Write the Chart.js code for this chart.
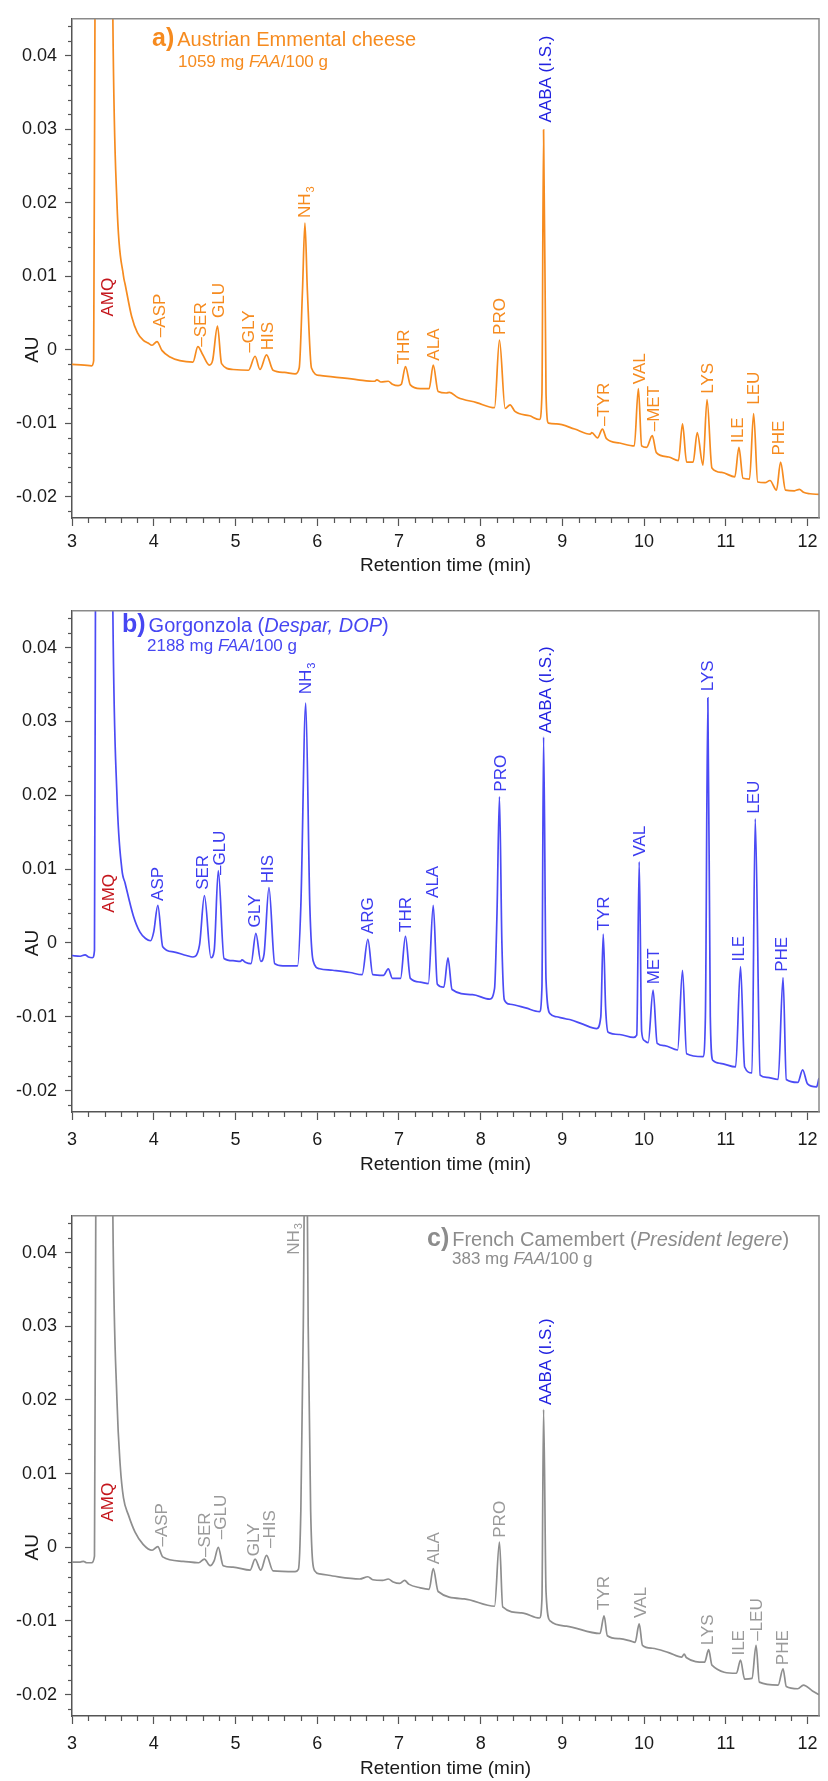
<!DOCTYPE html>
<html>
<head>
<meta charset="utf-8">
<script src="https://cdn.jsdelivr.net/npm/chart.js@4.4.1/dist/chart.umd.min.js"></script>
<style>
  body { margin:0; width:828px; height:1781px; overflow:hidden; background:#fff; position:relative;
         font-family:"Liberation Sans", Arial, sans-serif; }
  canvas { position:absolute; left:0; }
  .ttl { position:absolute; white-space:nowrap; font-size:20px; line-height:24px; }
  .ttl b { font-size:25px; margin-right:3px; }
  .sub { position:absolute; white-space:nowrap; font-size:17px; line-height:20px; }
</style>
</head>
<body>
<canvas id="panelA" width="828" height="580" style="top:0px"></canvas>
<canvas id="panelB" width="828" height="586" style="top:592px"></canvas>
<canvas id="panelC" width="828" height="584" style="top:1197px"></canvas>

<div class="ttl" style="left:152px;top:25px;color:#F68B1F"><b>a)</b>Austrian Emmental cheese</div>
<div class="sub" style="left:178px;top:52px;color:#F68B1F">1059 mg <i>FAA</i>/100 g</div>
<div class="ttl" style="left:122px;top:611px;color:#4646F2"><b>b)</b>Gorgonzola (<i>Despar, DOP</i>)</div>
<div class="sub" style="left:147px;top:636px;color:#4646F2">2188 mg <i>FAA</i>/100 g</div>
<div class="ttl" style="left:427px;top:1225px;color:#8c8c8c"><b>c)</b>French Camembert (<i>President legere</i>)</div>
<div class="sub" style="left:452px;top:1249px;color:#8c8c8c">383 mg <i>FAA</i>/100 g</div>

<script>
// retention time (min) and absorbance (AU)
var timeA = [3.00,3.15,3.24,3.265,3.285,3.32,3.42,3.48,3.50,3.55,3.63,3.65,3.73,3.80,3.87,3.93,3.98,4.04,4.10,4.20,4.32,4.48,4.54,4.60,4.68,4.72,4.78,4.83,4.97,5.16,5.24,5.30,5.38,5.46,5.60,5.73,5.78,5.82,5.85,5.88,5.93,6.03,6.19,6.50,6.70,6.73,6.78,6.87,6.92,6.99,7.03,7.08,7.14,7.26,7.37,7.42,7.48,7.58,7.62,7.72,7.95,8.17,8.23,8.30,8.36,8.42,8.60,8.72,8.75,8.77,8.80,8.83,8.93,9.15,9.34,9.36,9.43,9.49,9.54,9.70,9.88,9.93,9.97,10.03,10.10,10.15,10.30,10.42,10.47,10.52,10.60,10.65,10.72,10.77,10.83,10.95,11.11,11.16,11.21,11.29,11.34,11.39,11.48,11.54,11.62,11.67,11.73,11.84,11.90,11.95,12.03,12.14];
var auA   = [-0.0020,-0.0021,-0.0022,-0.0015,0.06,0.14,0.15,0.08,0.045,0.020,0.0100,0.0089,0.0045,0.0023,0.0013,0.0009,0.0006,0.0011,-0.0001,-0.0010,-0.0015,-0.0017,0.0004,-0.0007,-0.0021,-0.0015,0.0032,-0.0019,-0.0027,-0.0028,-0.0009,-0.0027,-0.0007,-0.0028,-0.0031,-0.0033,-0.0025,0.0080,0.0172,0.0080,-0.0025,-0.0035,-0.0037,-0.0041,-0.0043,-0.0041,-0.0044,-0.0043,-0.0047,-0.0049,-0.0047,-0.0023,-0.0048,-0.0053,-0.0053,-0.0021,-0.0057,-0.0059,-0.0058,-0.0065,-0.0072,-0.0079,0.0013,-0.0080,-0.0075,-0.0084,-0.0090,-0.0095,-0.0060,0.0299,-0.0060,-0.0100,-0.0101,-0.0108,-0.0115,-0.0113,-0.0120,-0.0108,-0.0121,-0.0127,-0.0131,-0.0053,-0.0131,-0.0133,-0.0117,-0.0140,-0.0146,-0.0151,-0.0101,-0.0153,-0.0153,-0.0113,-0.0157,-0.0068,-0.0161,-0.0167,-0.0173,-0.0133,-0.0175,-0.0176,-0.0087,-0.0180,-0.0181,-0.0178,-0.0191,-0.0153,-0.0191,-0.0192,-0.0190,-0.0194,-0.0196,-0.0197];

var timeB = [3.00,3.10,3.16,3.20,3.25,3.275,3.29,3.33,3.42,3.48,3.50,3.55,3.61,3.65,3.75,3.83,3.90,3.96,4.00,4.05,4.11,4.24,4.40,4.48,4.56,4.62,4.70,4.74,4.79,4.86,4.97,5.06,5.08,5.12,5.19,5.25,5.31,5.35,5.41,5.48,5.58,5.76,5.80,5.86,5.91,5.95,6.03,6.19,6.40,6.55,6.62,6.68,6.81,6.87,6.92,7.02,7.08,7.14,7.26,7.36,7.42,7.47,7.55,7.60,7.65,7.90,8.11,8.17,8.20,8.23,8.26,8.29,8.36,8.55,8.72,8.75,8.77,8.80,8.85,8.93,9.05,9.10,9.25,9.42,9.47,9.50,9.53,9.56,9.70,9.87,9.91,9.94,9.97,10.00,10.05,10.11,10.16,10.25,10.41,10.47,10.52,10.72,10.75,10.78,10.81,10.84,10.93,11.12,11.18,11.23,11.32,11.36,11.42,11.50,11.64,11.70,11.74,11.88,11.94,12.00,12.11,12.14];
var auB   = [-0.0017,-0.0018,-0.0016,-0.0019,-0.0020,-0.0010,0.06,0.14,0.15,0.08,0.045,0.020,0.0100,0.0081,0.0037,0.0015,0.0006,0.0003,0.0015,0.0051,-0.0005,-0.0012,-0.0017,-0.0019,-0.0003,0.0064,-0.0020,-0.0010,0.0098,-0.0021,-0.0024,-0.0025,-0.0023,-0.0026,-0.0028,0.0013,-0.0025,-0.0015,0.0075,-0.0028,-0.0031,-0.0031,0.0050,0.0325,0.0050,-0.0024,-0.0035,-0.0037,-0.0040,-0.0043,0.0005,-0.0043,-0.0044,-0.0035,-0.0048,-0.0048,0.0009,-0.0048,-0.0053,-0.0055,0.0051,-0.0056,-0.0060,-0.0020,-0.0063,-0.0070,-0.0076,-0.0062,0.0040,0.0198,0.0000,-0.0077,-0.0083,-0.0088,-0.0093,-0.0060,0.0279,-0.0050,-0.0096,-0.0100,-0.0103,-0.0104,-0.0110,-0.0116,-0.0100,0.0012,-0.0090,-0.0121,-0.0124,-0.0128,-0.0125,0.0110,-0.0120,-0.0132,-0.0135,-0.0064,-0.0136,-0.0139,-0.0145,-0.0037,-0.0150,-0.0154,-0.0100,0.0332,-0.0100,-0.0159,-0.0163,-0.0168,-0.0032,-0.0168,-0.0176,0.0168,-0.0179,-0.0182,-0.0185,-0.0047,-0.0185,-0.0189,-0.0172,-0.0191,-0.0195,-0.0183];

var timeC = [3.00,3.10,3.14,3.18,3.24,3.275,3.295,3.33,3.42,3.48,3.50,3.55,3.59,3.63,3.69,3.77,3.87,3.98,4.05,4.11,4.36,4.55,4.62,4.69,4.74,4.79,4.85,4.97,5.18,5.24,5.31,5.38,5.46,5.73,5.77,5.80,5.83,5.86,5.89,5.92,5.97,6.03,6.19,6.52,6.62,6.68,6.80,6.87,6.93,7.01,7.07,7.12,7.26,7.37,7.42,7.48,7.80,8.17,8.23,8.27,8.50,8.72,8.75,8.77,8.80,8.85,9.05,9.46,9.51,9.55,9.70,9.83,9.89,9.94,9.98,10.10,10.30,10.46,10.49,10.52,10.74,10.79,10.83,11.13,11.18,11.23,11.32,11.37,11.41,11.64,11.70,11.74,11.88,11.95,12.06,12.14];
var auC   = [-0.0020,-0.0020,-0.0019,-0.0021,-0.0021,-0.0012,0.06,0.14,0.15,0.08,0.045,0.020,0.0111,0.0067,0.0044,0.0021,0.0004,-0.0004,0.0001,-0.0013,-0.0019,-0.0021,-0.0016,-0.0025,-0.0018,0.0000,-0.0025,-0.0027,-0.0031,-0.0016,-0.0031,-0.0011,-0.0032,-0.0033,-0.0030,0.0050,0.0300,0.0700,0.0300,0.0050,-0.0032,-0.0036,-0.0039,-0.0043,-0.0040,-0.0044,-0.0045,-0.0043,-0.0047,-0.0049,-0.0045,-0.0050,-0.0055,-0.0057,-0.0029,-0.0060,-0.0070,-0.0080,0.0007,-0.0081,-0.0089,-0.0096,-0.0070,0.0187,-0.0060,-0.0100,-0.0107,-0.0117,-0.0093,-0.0120,-0.0124,-0.0127,-0.0129,-0.0104,-0.0133,-0.0137,-0.0143,-0.0149,-0.0145,-0.0150,-0.0156,-0.0139,-0.0160,-0.0171,-0.0153,-0.0179,-0.0178,-0.0133,-0.0183,-0.0187,-0.0165,-0.0189,-0.0192,-0.0187,-0.0195,-0.0200];

// peak annotations: name, retention time, AU where the rotated label starts
var peakNamesA = ['AMQ','–ASP','–SER','GLU','–GLY','HIS','NH3','THR','ALA','PRO','AABA (I.S.)','–TYR','VAL','–MET','LYS','ILE','LEU','PHE'];
var peakTimeA  = [3.44,4.08,4.58,4.80,5.17,5.40,5.86,7.07,7.43,8.24,8.80,9.51,9.95,10.13,10.79,11.15,11.35,11.66];
var peakLabA   = [0.0045,0.0017,0.0004,0.0043,-0.0004,-0.0001,0.0179,-0.0020,-0.0015,0.0020,0.0309,-0.0104,-0.0047,-0.0111,-0.0060,-0.0127,-0.0075,-0.0144];

var peakNamesB = ['AMQ','ASP','SER','–GLU','GLY','HIS','NH3','ARG','THR','ALA','PRO','AABA (I.S.)','TYR','VAL','MET','LYS','ILE','LEU','PHE'];
var peakTimeB  = [3.46,4.05,4.61,4.81,5.24,5.40,5.87,6.63,7.09,7.42,8.25,8.80,9.51,9.95,10.13,10.78,11.17,11.35,11.69];
var peakLabB   = [0.0041,0.0057,0.0072,0.0092,0.0021,0.0081,0.0337,0.0012,0.0015,0.0061,0.0205,0.0284,0.0017,0.0117,-0.0056,0.0341,-0.0025,0.0175,-0.0039];

var peakNamesC = ['AMQ','–ASP','–SER','–GLU','GLY','–HIS','NH3','ALA','PRO','AABA (I.S.)','TYR','VAL','LYS','ILE','–LEU','PHE'];
var peakTimeC  = [3.44,4.11,4.63,4.83,5.23,5.43,5.72,7.43,8.24,8.80,9.51,9.96,10.79,11.17,11.38,11.70];
var peakLabC   = [0.0035,0.0001,-0.0013,0.0011,-0.0012,-0.0001,0.0397,-0.0023,0.0013,0.0193,-0.0085,-0.0096,-0.0133,-0.0147,-0.0127,-0.0160];

var xMin = 3, xMax = 12.14;
var yMin = -0.0229, yMax = 0.045;

Chart.defaults.font.family = '"Liberation Sans", Arial, sans-serif';
Chart.defaults.color = '#1a1a1a';

function line(ctx, x1, y1, x2, y2) {
  ctx.beginPath(); ctx.moveTo(x1, y1); ctx.lineTo(x2, y2); ctx.stroke();
}

// frame, minor ticks, AU label and peak names
var decor = {
  id: 'decor',
  afterDraw: function(chart, args, opts) {
    var ctx = chart.ctx, a = chart.chartArea, x = chart.scales.x, y = chart.scales.y;
    ctx.save();
    ctx.strokeStyle = '#8a8a8a'; ctx.lineWidth = 1.5;
    ctx.beginPath(); ctx.moveTo(a.left, a.top); ctx.lineTo(a.right, a.top); ctx.lineTo(a.right, a.bottom); ctx.stroke();

    ctx.strokeStyle = '#555'; ctx.lineWidth = 1.2;
    for (var k = -11; k <= 22; k++) {
      if (k % 5 === 0) continue;
      var py = Math.round(y.getPixelForValue(k * 0.002)) + 0.5;
      line(ctx, a.left - 4, py, a.left, py);
    }
    for (var j = 16; j <= 60; j++) {
      if (j % 5 === 0) continue;
      var px = Math.round(x.getPixelForValue(j * 0.2)) + 0.5;
      line(ctx, px, a.bottom, px, a.bottom + 5);
    }

    ctx.fillStyle = '#1a1a1a';
    ctx.font = '19px "Liberation Sans", Arial, sans-serif';
    ctx.translate(33, y.getPixelForValue(0));
    ctx.rotate(-Math.PI / 2);
    ctx.textAlign = 'center'; ctx.textBaseline = 'middle';
    ctx.fillText('AU', 0, 0);
    ctx.restore();

    opts.names.forEach(function(name, i) {
      var col = opts.color;
      if (name === 'AMQ') col = '#C4161C';
      if (name.indexOf('AABA') >= 0) col = '#2222E0';
      ctx.save();
      ctx.fillStyle = col;
      ctx.font = '17px "Liberation Sans", Arial, sans-serif';
      ctx.translate(x.getPixelForValue(opts.times[i]), y.getPixelForValue(opts.au[i]));
      ctx.rotate(-Math.PI / 2);
      ctx.textAlign = 'left'; ctx.textBaseline = 'middle';
      if (name === 'NH3') {
        ctx.fillText('NH', 0, 0);
        var w = ctx.measureText('NH').width;
        ctx.font = '11px "Liberation Sans", Arial, sans-serif';
        ctx.fillText('3', w + 1, 5);
      } else {
        ctx.fillText(name, 0, 0);
      }
      ctx.restore();
    });
  }
};

function buildPanel(id, times, au, lineColor, labelColor, names, ptimes, plab, axisH, titlePad, tickPad) {
  var pts = times.map(function(t, i) { return {x: t, y: au[i]}; });
  return new Chart(document.getElementById(id), {
    type: 'line',
    data: { datasets: [{ data: pts, borderColor: lineColor, borderWidth: 1.7, pointRadius: 0,
                         fill: false, cubicInterpolationMode: 'monotone' }] },
    options: {
      responsive: false, animation: false, devicePixelRatio: 1,
      layout: { padding: { top: 11, right: 9, left: 0, bottom: 0 } },
      plugins: {
        legend: { display: false }, tooltip: { enabled: false },
        decor: { names: names, times: ptimes, au: plab, color: labelColor }
      },
      scales: {
        x: {
          type: 'linear', min: xMin, max: xMax,
          ticks: { stepSize: 1, includeBounds: false, autoSkip: false, maxRotation: 0, padding: tickPad,
                   font: { size: 18 }, color: '#1a1a1a',
                   callback: function(v) { return String(Math.round(v)); } },
          grid: { drawOnChartArea: false, tickLength: 8, tickColor: '#555', tickWidth: 1.2 },
          border: { color: '#555', width: 1.5 },
          title: { display: true, text: 'Retention time (min)', font: { size: 19 }, color: '#1a1a1a',
                   padding: { top: 0, bottom: titlePad } },
          afterFit: function(s) { s.height = axisH; }
        },
        y: {
          min: yMin, max: yMax,
          ticks: { stepSize: 0.01, includeBounds: false, padding: 8, font: { size: 18 }, color: '#1a1a1a',
                   callback: function(v) { return String(Number(v.toFixed(2))); } },
          grid: { drawOnChartArea: false, tickLength: 7, tickColor: '#555', tickWidth: 1.2 },
          border: { color: '#555', width: 1.5 },
          afterFit: function(s) { s.width = 72; }
        }
      }
    },
    plugins: [decor]
  });
}

buildPanel('panelA', timeA, auA, '#F68B1F', '#F68B1F', peakNamesA, peakTimeA, peakLabA, 62, 3, 5);
buildPanel('panelB', timeB, auB, '#4B4BF5', '#3C3CF0', peakNamesB, peakTimeB, peakLabB, 66, 2, 9);
buildPanel('panelC', timeC, auC, '#8E8E8E', '#9a9a9a', peakNamesC, peakTimeC, peakLabC, 65, 1, 9);
</script>
</body>
</html>
